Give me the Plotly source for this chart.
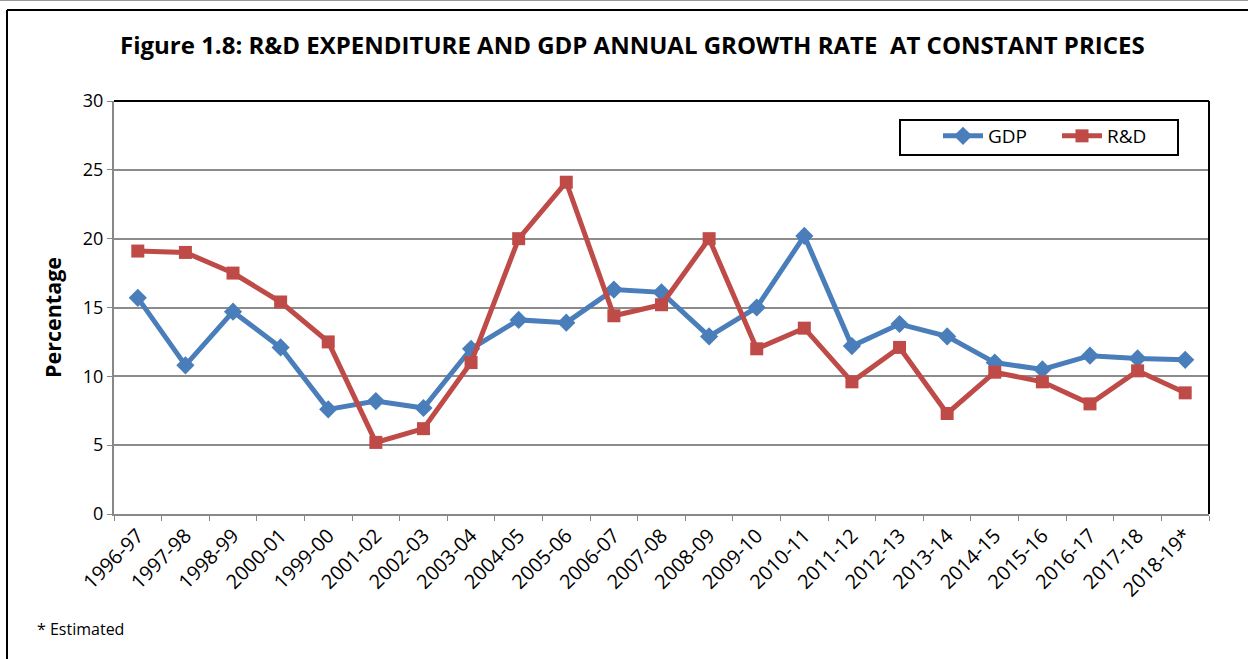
import plotly.graph_objects as go

years = ["1996-97", "1997-98", "1998-99", "2000-01", "1999-00", "2001-02", "2002-03",
         "2003-04", "2004-05", "2005-06", "2006-07", "2007-08", "2008-09", "2009-10",
         "2010-11", "2011-12", "2012-13", "2013-14", "2014-15", "2015-16", "2016-17",
         "2017-18", "2018-19*"]
gdp = [15.7, 10.8, 14.7, 12.1, 7.6, 8.2, 7.7, 12.0, 14.1, 13.9, 16.3, 16.1, 12.9, 15.0,
       20.2, 12.2, 13.8, 12.9, 11.0, 10.5, 11.5, 11.3, 11.2]
rnd = [19.1, 19.0, 17.5, 15.4, 12.5, 5.2, 6.2, 11.0, 20.0, 24.1, 14.4, 15.2, 20.0, 12.0,
       13.5, 9.6, 12.1, 7.3, 10.3, 9.6, 8.0, 10.4, 8.8]
y_ticks = [0, 5, 10, 15, 20, 25, 30]

BLUE = "#4A7EBB"
RED = "#BE4B48"
FONT = "Open Sans"

fig = go.Figure()
fig.add_trace(go.Scatter(x=years, y=gdp, name="GDP", mode="lines+markers",
                         line=dict(color=BLUE, width=5),
                         marker=dict(symbol="diamond", size=14, color=BLUE)))
fig.add_trace(go.Scatter(x=years, y=rnd, name="R&D", mode="lines+markers",
                         line=dict(color=RED, width=5),
                         marker=dict(symbol="square", size=13, color=RED)))

L, R, T, B = 114, 1209, 101, 514
W, H = 1248, 659
pw, ph = R - L, B - T

def px(x):
    return (x - L) / pw

def py(y):
    return (B - y) / ph

fig.update_layout(
    width=W, height=H,
    margin=dict(l=L, r=W - R, t=T, b=H - B, autoexpand=False),
    paper_bgcolor="white", plot_bgcolor="white",
    font=dict(family=FONT, color="black"),
    showlegend=True,
    legend=dict(orientation="h", x=px(938), y=py(117), xanchor="left", yanchor="top",
                borderwidth=0, bgcolor="rgba(0,0,0,0)",
                font=dict(size=19, family=FONT), entrywidth=64, entrywidthmode="pixels",
                itemwidth=40),
    xaxis=dict(type="category", showgrid=False, tickangle=-45, tickson="boundaries",
               ticks="outside", ticklen=5, tickcolor="#888888", showline=True,
               linecolor="#888888", linewidth=2, tickfont=dict(size=20, family=FONT),
               range=[-0.5, len(years) - 0.5]),
    yaxis=dict(range=[0, 30], tickvals=y_ticks, showgrid=True, gridcolor="#8c8c8c",
               gridwidth=1.5, ticks="outside", ticklen=5, tickcolor="#888888",
               showline=True, linecolor="#888888", linewidth=2, zeroline=False,
               tickfont=dict(size=18, family=FONT)),
)

# legend box
fig.add_shape(type="rect", xref="paper", yref="paper", x0=px(900), x1=px(1178),
              y0=py(155), y1=py(120), line=dict(color="black", width=2), layer="below")
# top and right plot borders
fig.add_shape(type="line", xref="paper", yref="paper", x0=0, x1=1, y0=1, y1=1,
              line=dict(color="black", width=2))
fig.add_shape(type="line", xref="paper", yref="paper", x0=1, x1=1, y0=0, y1=1,
              line=dict(color="black", width=2))
# outer frame (left + top)
fig.add_shape(type="line", xref="paper", yref="paper", x0=px(7), x1=px(7), y0=py(659), y1=py(10),
              line=dict(color="black", width=2))
fig.add_shape(type="line", xref="paper", yref="paper", x0=px(7), x1=px(1248), y0=py(10), y1=py(10),
              line=dict(color="black", width=2))
fig.add_shape(type="line", xref="paper", yref="paper", x0=px(0), x1=px(1248), y0=py(0.5), y1=py(0.5),
              line=dict(color="#9a9a9a", width=1))

fig.add_annotation(text="<b>Figure 1.8: R&D EXPENDITURE AND GDP ANNUAL GROWTH RATE  AT CONSTANT PRICES</b>",
                   xref="paper", yref="paper", x=px(632), y=py(45), showarrow=False,
                   xanchor="center", yanchor="middle", font=dict(size=24, family=FONT))
fig.add_annotation(text="<b>Percentage</b>", xref="paper", yref="paper", x=px(52), y=py(318),
                   showarrow=False, textangle=-90, xanchor="center", yanchor="middle",
                   font=dict(size=21.5, family=FONT))
fig.add_annotation(text="* Estimated", xref="paper", yref="paper", x=px(35), y=py(629),
                   showarrow=False, xanchor="left", yanchor="middle",
                   font=dict(size=16, family=FONT))

fig.write_html("out.html", config={"displayModeBar": False},
               post_script="document.body.style.margin='0';document.body.style.overflow='hidden';")
